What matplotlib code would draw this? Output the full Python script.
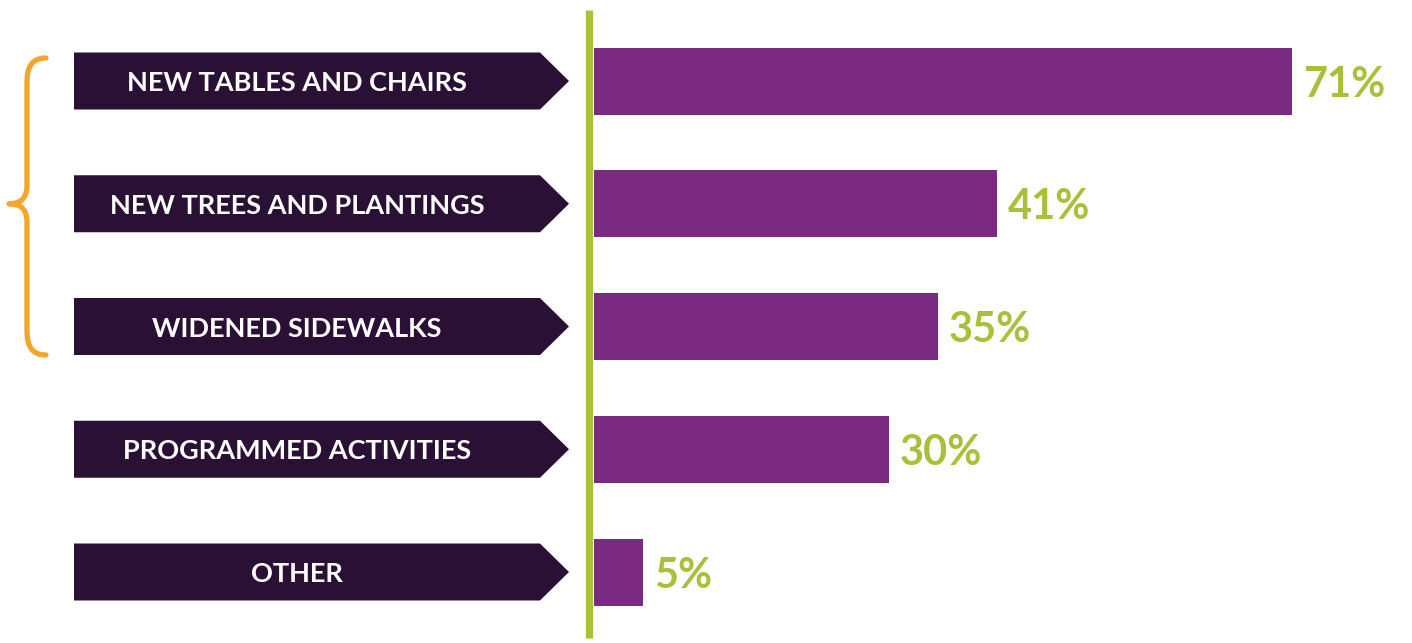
import matplotlib.pyplot as plt
from matplotlib.patches import Polygon, PathPatch
from matplotlib.path import Path

categories = ["NEW TABLES AND CHAIRS", "NEW TREES AND PLANTINGS", "WIDENED SIDEWALKS",
              "PROGRAMMED ACTIVITIES", "OTHER"]
values = [71, 41, 35, 30, 5]
value_labels = ["71%", "41%", "35%", "30%", "5%"]

BAR = "#7b2a82"
DARK = "#2b1036"
GREEN = "#a8c03a"
ORANGE = "#f4a62a"

plt.rcParams['font.family'] = ['Lato', 'DejaVu Sans']

W, H = 1412, 643
fig = plt.figure(figsize=(W / 100, H / 100), dpi=100)
fig.patch.set_facecolor("white")

# vertical positions: bar centres at ~81px from top, 122.75px apart
step = 122.75
y_top = -81 / step
y_bot = (H - 81) / step

# left panel (pixel x units) for arrow labels and brace
x0 = 594
axl = fig.add_axes([0, 0, x0 / W, 1])
axl.set_xlim(0, x0)
axl.set_ylim(y_bot, y_top)
axl.axis("off")

# right panel for the bars
axr = fig.add_axes([x0 / W, 0, 1 - x0 / W, 1])
px_per_pct = (1292 - x0) / 71
axr.set_xlim(0, (W - x0) / px_per_pct)
axr.set_ylim(y_bot, y_top)
axr.axis("off")

ypos = list(range(len(categories)))
axr.barh(ypos, values, height=67 / step, color=BAR, left=0)
for y, v, lab in zip(ypos, values, value_labels):
    axr.text(v + 11 / px_per_pct, y, lab, color=GREEN, fontsize=30, fontweight="bold",
             va="center_baseline", ha="left")

# arrow-shaped category labels
half = 57 / step / 2
for y, cat in zip(ypos, categories):
    poly = Polygon([(74, y - half), (540, y - half), (569, y), (540, y + half), (74, y + half)],
                   closed=True, facecolor=DARK, edgecolor="none")
    axl.add_patch(poly)
    axl.text(297, y, cat, color="white", fontsize=19.5, fontweight="bold",
             ha="center", va="center_baseline")

# green divider line
fig.add_artist(plt.Line2D([589 / W, 589 / W], [1 - 10 / H, 1 - 638 / H],
                          color=GREEN, linewidth=5.2, solid_capstyle="butt"))

# orange brace grouping the first three items
t, b = -23 / step, 274 / step
verts = [(46, t), (32, t), (27, t + 0.07), (27, t + 0.2),
         (27, 0.85),
         (27, 0.96), (20, 1.0), (9, 1.0),
         (20, 1.0), (27, 1.04), (27, 1.15),
         (27, b - 0.2),
         (27, b - 0.07), (32, b), (46, b)]
codes = [Path.MOVETO, Path.CURVE4, Path.CURVE4, Path.CURVE4,
         Path.LINETO,
         Path.CURVE4, Path.CURVE4, Path.CURVE4,
         Path.CURVE4, Path.CURVE4, Path.CURVE4,
         Path.LINETO,
         Path.CURVE4, Path.CURVE4, Path.CURVE4]
axl.add_patch(PathPatch(Path(verts, codes), facecolor="none", edgecolor=ORANGE,
                        linewidth=3.8, capstyle="round", joinstyle="round"))

fig.savefig("out.png", dpi=100, facecolor="white")
